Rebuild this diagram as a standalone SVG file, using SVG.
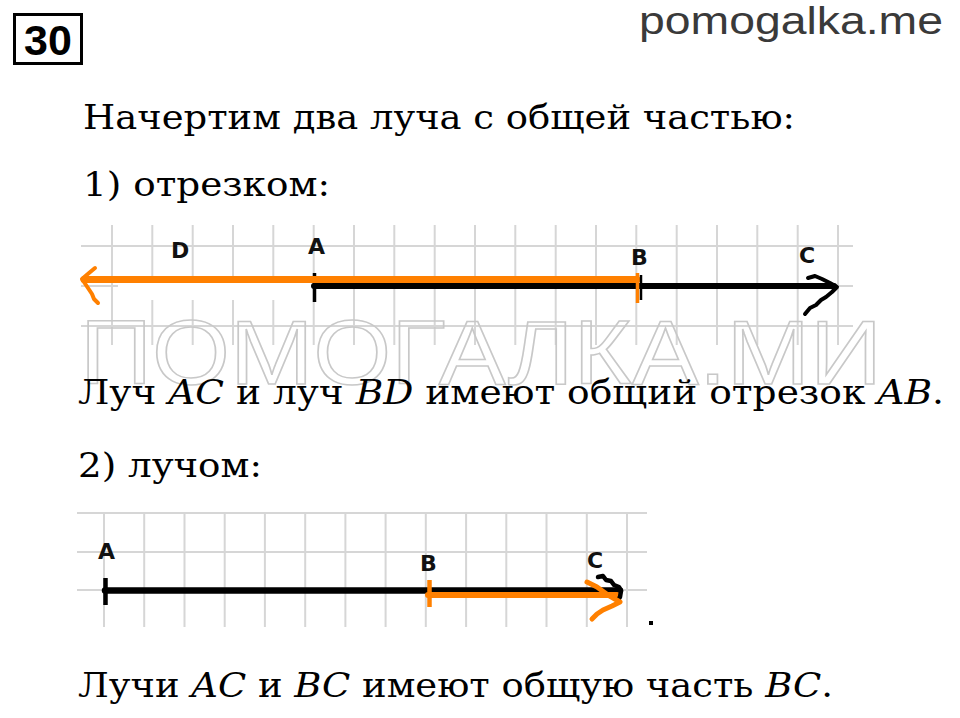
<svg xmlns="http://www.w3.org/2000/svg" width="960" height="718" viewBox="0 0 960 718">
<style>
.grid{stroke:#d6d6d6;stroke-width:2;fill:none}
.txt{font-family:"DejaVu Serif","Liberation Serif",serif;font-size:34px;fill:#000}
.it{font-style:italic}
.lbl{font-family:"DejaVu Sans","Liberation Sans",sans-serif;font-weight:bold;font-size:22px;fill:#111}
.blk{stroke:#000;fill:none;stroke-linejoin:round;stroke-linecap:round}
.org{stroke:#ff8000;fill:none;stroke-linejoin:round;stroke-linecap:round}
</style>
<rect width="960" height="718" fill="#fff"/>
<g id="header">
<rect x="14.5" y="14.5" width="67" height="49" fill="none" stroke="#000" stroke-width="3"/>
<text x="48" y="55" text-anchor="middle" font-family="Liberation Sans,Arial,sans-serif" font-weight="bold" font-size="43" fill="#000">30</text>
<text x="639" y="34" font-family="Liberation Sans,Arial,sans-serif" font-size="38" fill="#3a3a3a" textLength="304" lengthAdjust="spacingAndGlyphs">pomogalka.me</text>
</g>
<text class="txt" x="83" y="129" textLength="712" lengthAdjust="spacingAndGlyphs">Начертим два луча с общей частью:</text>
<text class="txt" x="83" y="196" textLength="247" lengthAdjust="spacingAndGlyphs">1) отрезком:</text>
<g id="grid1">
<path class="grid" d="M112 225V345M152.3 225V345M192.7 225V345M233 225V345M273.3 225V345M313.7 225V345M354 225V345M394.3 225V345M434.7 225V345M475 225V345M515.3 225V345M555.7 225V345M596 225V345M636.3 225V345M676.7 225V345M717 225V345M757.3 225V345M797.7 225V345M838 225V345M81 246H853M81 286H853M81 326H853"/>
<rect x="118" y="283" width="194" height="17" fill="#fff"/>
</g>
<g id="watermark">
<text x="80" y="384" font-family="Liberation Sans,Arial,sans-serif" font-size="90" fill="none" stroke="#c8c8c8" stroke-width="1.5" textLength="802" lengthAdjust="spacingAndGlyphs">ПОМОГАЛКА.МИ</text>
</g>
<g id="rays1">
<path class="blk" d="M314 286H834" stroke-width="6" stroke-linecap="butt"/>
<path d="M314.5 273V302" stroke="#000" stroke-width="3.5"/>
<path class="org" d="M84 279.5H637" stroke-width="7" stroke-linecap="butt"/>
<path d="M641 275V300" stroke="#000" stroke-width="2.5"/>
<path d="M637.5 273V303" stroke="#ff8000" stroke-width="3.5"/>
<polyline class="blk" stroke-width="4" points="808,278 815,276 822,279 830,283 837,287 832,292 826,297 821,300 816,305 810,308 805,314"/>
<polyline class="org" stroke-width="4" points="95,268 89,273 82,279 88,288 92,294 94,299 98,303"/>
</g>
<g id="labels1">
<text class="lbl" x="171" y="258">D</text>
<text class="lbl" x="308" y="254">A</text>
<text class="lbl" x="631" y="265">B</text>
<text class="lbl" x="799" y="263">C</text>
</g>
<text class="txt" x="78" y="404" textLength="866" lengthAdjust="spacingAndGlyphs">Луч <tspan class="it">AC</tspan> и луч <tspan class="it">BD</tspan> имеют общий отрезок <tspan class="it">AB</tspan>.</text>
<text class="txt" x="78" y="477" textLength="184" lengthAdjust="spacingAndGlyphs">2) лучом:</text>
<g id="grid2">
<path class="grid" d="M104 513V627M144.2 513V627M184.5 513V627M224.7 513V627M264.9 513V627M305.2 513V627M345.4 513V627M385.6 513V627M425.8 513V627M466.1 513V627M506.3 513V627M546.5 513V627M586.8 513V627M627 513V627M77 513H647M77 552H647M77 590H647"/>
</g>
<g id="rays2">
<path class="blk" d="M105 590.5H620" stroke-width="6.5" stroke-linecap="butt"/>
<path d="M105.5 578V605" stroke="#000" stroke-width="4.5"/>
<path class="org" d="M428 595H617" stroke-width="6" stroke-linecap="butt"/>
<path d="M429.5 580V607" stroke="#ff8000" stroke-width="4.5"/>
<polyline class="blk" stroke-width="4.5" points="598,577 603,576 606,580 611,581 614,585 619,587 621,591 620,597 618,600"/>
<polyline class="org" stroke-width="5" points="587,582 597,587 608,595 620,602 612,606 603,610 597,614 592,619"/>
<rect x="649" y="621" width="4" height="4" fill="#000"/>
</g>
<g id="labels2">
<text class="lbl" x="98" y="559">A</text>
<text class="lbl" x="420" y="571">B</text>
<text class="lbl" x="587" y="568">C</text>
</g>
<text class="txt" x="78" y="697" textLength="755" lengthAdjust="spacingAndGlyphs">Лучи <tspan class="it">AC</tspan> и <tspan class="it">BC</tspan> имеют общую часть <tspan class="it">BC</tspan>.</text>
</svg>
